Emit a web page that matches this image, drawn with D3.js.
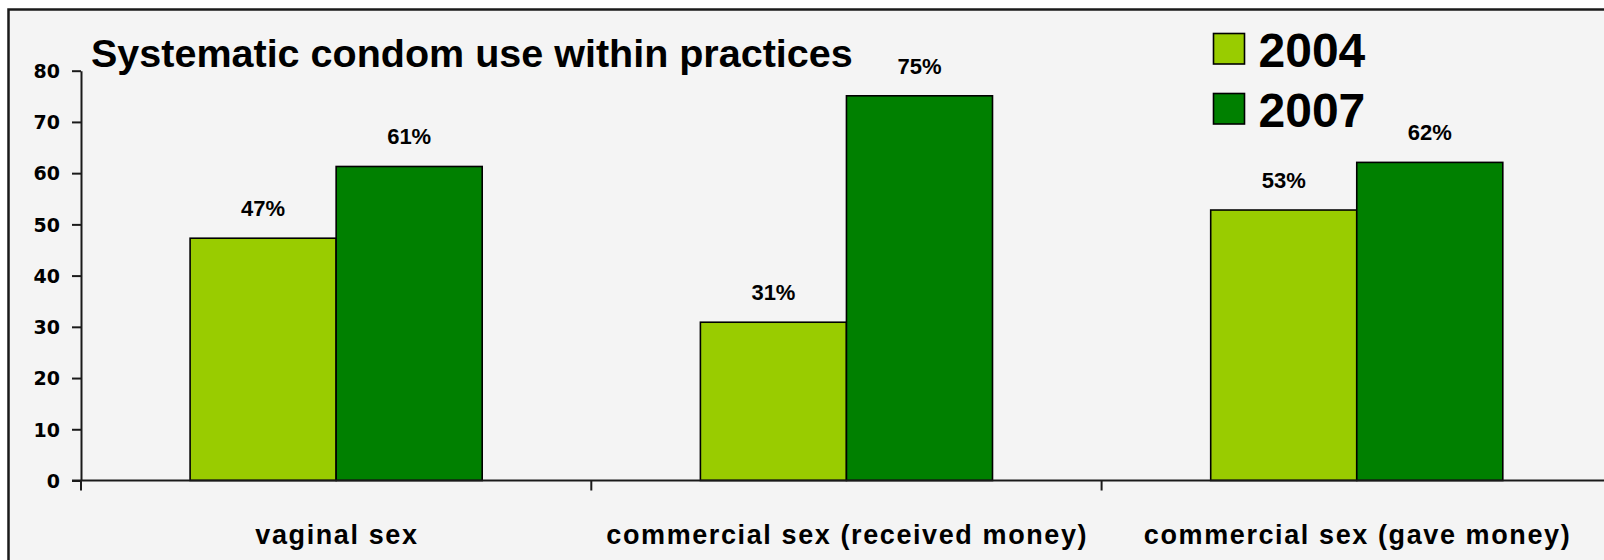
<!DOCTYPE html>
<html>
<head>
<meta charset="utf-8">
<script src="https://cdn.jsdelivr.net/npm/d3@7"></script>
<style>
  html, body { margin: 0; padding: 0; background: #ffffff; }
  svg { display: block; }
  text { font-family: "Liberation Sans", Arial, sans-serif; fill: #000; }
</style>
</head>
<body>
<div id="chart"></div>
<script>
"use strict";

var categories = ['vaginal sex', 'commercial sex (received money)', 'commercial sex (gave money)'];
var years = ['2004', '2007'];
var values2004 = [47.3, 30.9, 52.8];
var values2007 = [61.3, 75.1, 62.1];
var yTicks = [0, 10, 20, 30, 40, 50, 60, 70, 80];
var colors = { '2004': '#99cc00', '2007': '#008000' };
var title = 'Systematic condom use within practices';

var width = 1604, height = 560;

var svg = d3.select('#chart').append('svg')
  .attr('width', width)
  .attr('height', height);

//panel background with border (right and bottom run off the picture)
svg.append('rect')
  .attr('x', 8.5).attr('y', 9.5)
  .attr('width', width).attr('height', height)
  .attr('fill', '#f4f4f4')
  .attr('stroke', '#1a1a1a')
  .attr('stroke-width', 2.5);

var x0 = d3.scaleBand().domain(categories).range([81, 81 + 3 * 510.3]).padding(0);
var x1 = d3.scaleBand().domain(years).range([0, x0.bandwidth()]).paddingInner(0).paddingOuter(0.747);
var y = d3.scaleLinear().domain([0, 80]).range([480.5, 70.7]);

var rows = categories.map(function(c, i) {
  return { category: c, values: [
    { year: '2004', value: values2004[i] },
    { year: '2007', value: values2007[i] }
  ] };
});

//bars
var groups = svg.append('g').selectAll('.cat').data(rows).enter().append('g')
  .attr('class', 'cat')
  .attr('transform', function(d) { return 'translate(' + x0(d.category) + ',0)'; });

groups.selectAll('rect').data(function(d) { return d.values; }).enter().append('rect')
  .attr('x', function(d) { return x1(d.year); })
  .attr('y', function(d) { return y(d.value); })
  .attr('width', x1.bandwidth())
  .attr('height', function(d) { return y(0) - y(d.value); })
  .attr('fill', function(d) { return colors[d.year]; })
  .attr('stroke', '#000')
  .attr('stroke-width', 1.6);

groups.selectAll('.val').data(function(d) { return d.values; }).enter().append('text')
  .attr('class', 'val')
  .attr('x', function(d) { return x1(d.year) + x1.bandwidth() / 2; })
  .attr('y', function(d) { return y(d.value) - 22; })
  .attr('text-anchor', 'middle')
  .style('font-size', '22px')
  .style('font-weight', 'bold')
  .text(function(d) { return d3.format('.0f')(d.value) + '%'; });

//y axis
var yAxis = svg.append('g').attr('transform', 'translate(81,0)')
  .call(d3.axisLeft(y).tickValues(yTicks).tickSize(9).tickPadding(12).tickSizeOuter(0));
yAxis.select('.domain').attr('stroke', '#1a1a1a').attr('stroke-width', 2);
yAxis.selectAll('.tick line').attr('stroke', '#1a1a1a').attr('stroke-width', 2);
yAxis.selectAll('.tick text')
  .style('font-family', '"DejaVu Sans", sans-serif')
  .style('font-size', '19px')
  .style('font-weight', 'bold')
  .attr('dy', '0.36em');

//x axis: line to the edge, ticks on category boundaries
var xAxis = svg.append('g').attr('transform', 'translate(0,' + y(0) + ')');
xAxis.append('line')
  .attr('x1', 72).attr('x2', width)
  .attr('stroke', '#1a1a1a').attr('stroke-width', 2);

var edges = categories.map(function(c) { return x0(c); });
xAxis.selectAll('.edge').data(edges).enter().append('line')
  .attr('class', 'edge')
  .attr('x1', function(d) { return d; }).attr('x2', function(d) { return d; })
  .attr('y1', 0).attr('y2', 10)
  .attr('stroke', '#1a1a1a').attr('stroke-width', 2);

xAxis.selectAll('.cat-label').data(categories).enter().append('text')
  .attr('class', 'cat-label')
  .attr('x', function(d) { return x0(d) + x0.bandwidth() / 2 + 0.8; })
  .attr('y', 63)
  .attr('text-anchor', 'middle')
  .style('font-size', '27px')
  .style('font-weight', 'bold')
  .style('letter-spacing', '1.6px')
  .text(function(d) { return d; });

//title
svg.append('text')
  .attr('x', 91)
  .attr('y', 66.5)
  .style('font-size', '39.5px')
  .style('font-weight', 'bold')
  .text(title);

//legend
var legend = svg.append('g').selectAll('.legend').data(years).enter().append('g')
  .attr('class', 'legend')
  .attr('transform', function(d, i) { return 'translate(1213.5,' + (33.5 + i * 60) + ')'; });

legend.append('rect')
  .attr('width', 31).attr('height', 30.5)
  .attr('fill', function(d) { return colors[d]; })
  .attr('stroke', '#000').attr('stroke-width', 1.6);

legend.append('text')
  .attr('x', 45).attr('y', 33)
  .style('font-size', '48px')
  .style('font-weight', 'bold')
  .text(function(d) { return d; });
</script>
</body>
</html>
